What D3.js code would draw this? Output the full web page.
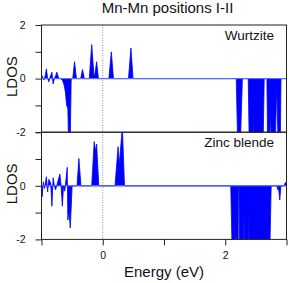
<!DOCTYPE html>
<html>
<head>
<meta charset="utf-8">
<script src="https://cdn.jsdelivr.net/npm/d3@7"></script>
<style>
  body { margin: 0; background: #fff; }
  svg { display: block; font-family: "Liberation Sans", Arial, sans-serif; }
</style>
</head>
<body>
<svg id="chart" width="289" height="283"></svg>
<script>
// Mn-Mn positions I-II, spin-resolved LDOS (two panels)

// Wurtzite: energy (eV) and LDOS
const wzE = [-1.00, -0.98, -0.96, -0.94, -0.92, -0.90, -0.88, -0.86, -0.83, -0.81, -0.79, -0.77, -0.75, -0.72,
  -0.69, -0.66, -0.63, -0.61, -0.59, -0.57, -0.56, -0.53, -0.515, -0.49, -0.46, -0.43, -0.36, -0.33, -0.30,
  -0.22, -0.18, -0.14, -0.12, -0.10, -0.07, 0.10, 0.14, 0.175, 0.42, 0.46, 0.495,
  2.18, 2.20, 2.25, 2.28, 2.375, 2.39, 2.45, 2.46, 2.47, 2.62, 2.636, 2.68, 2.69, 2.73, 2.74, 2.75,
  2.82, 2.84, 2.86, 2.90, 2.91, 3.00];
const wzV = [0.15, 0.05, -0.05, 0.10, 0.36, 0.00, -0.12, 0.05, 0.24, -0.20, 0.00, 0.10, 0.24, 0.02,
  0.00, -0.05, -0.25, -0.50, -1.00, -1.10, -2.20, -2.20, 0.00, 0.00, 0.63, 0.00, 0.00, 0.34, 0.00,
  0.00, 1.27, 0.00, 0.30, 0.63, 0.00, 0.00, 1.00, 0.00, 0.00, 1.14, 0.00,
  0.00, -2.20, -2.20, 0.00, 0.00, -2.20, -2.20, -1.60, -2.20, -2.20, 0.00, 0.00, -2.20, -2.20, -1.20, -2.20,
  -2.20, -0.30, -2.20, -2.20, 0.00, 0.00];

// Zinc blende: energy (eV) and LDOS
const zbE = [-1.00, -0.99, -0.97, -0.95, -0.92, -0.90, -0.88, -0.85, -0.83, -0.81, -0.79, -0.77, -0.74, -0.70,
  -0.68, -0.66, -0.64, -0.62, -0.58, -0.57, -0.55, -0.53, -0.50, -0.42, -0.39, -0.355, -0.18, -0.14, -0.12,
  -0.10, -0.065, 0.20, 0.25, 0.27, 0.32, 0.355,
  2.09, 2.11, 2.16, 2.17, 2.19, 2.21, 2.215, 2.225, 2.23, 2.30, 2.305, 2.31, 2.38, 2.385, 2.39, 2.73, 2.75,
  2.84, 2.86, 2.87, 2.89, 2.91, 2.96, 2.98, 3.00];
const zbV = [0.00, -0.41, 0.15, -0.10, 0.34, -0.23, 0.24, 0.10, -0.76, 0.30, 0.00, -0.15, 0.10, 0.44,
  0.00, -0.76, 0.00, -0.20, 0.69, -1.28, -1.00, -1.57, 0.00, 0.00, 1.02, 0.00, 0.00, 1.65, 1.30,
  1.56, 0.00, 0.00, 1.46, 0.80, 2.20, 0.00,
  0.00, -2.20, -2.20, -1.80, -2.20, -2.20, 0.00, 0.00, -2.20, -2.20, -1.00, -2.20, -2.20, -1.00, -2.20, -2.20, 0.00,
  0.00, -0.15, -0.05, -0.53, 0.00, 0.00, 0.12, 0.10];

const xTicks = [-1, 0, 1, 2, 3];
const xTickLabels = ['', '0', '', '2', ''];
const yTicks = [-2, -1, 0, 1, 2];

const panels = [
  { label: 'Wurtzite', E: wzE, V: wzV, yLabels: ['-2', '', '0', '', '2'] },
  { label: 'Zinc blende', E: zbE, V: zbV, yLabels: ['-2', '', '0', '', ''] }
];

const LEFT = 41.5, RIGHT = 286.5;
const TOP = 25, PANEL_H = 107.2;

const svg = d3.select('#chart');

const x = d3.scaleLinear().domain([-1, 3]).range([LEFT, RIGHT]);

panels.forEach((p, i) => {
  const y0 = TOP + i * PANEL_H;
  const y = d3.scaleLinear().domain([-2, 2]).range([y0 + PANEL_H, y0]);
  const pts = p.E.map((e, k) => ({ e, v: p.V[k] }));

  svg.append('clipPath').attr('id', 'clip' + i)
    .append('rect').attr('x', LEFT).attr('y', y0).attr('width', RIGHT - LEFT).attr('height', PANEL_H);

  const g = svg.append('g').attr('clip-path', `url(#clip${i})`);

  const area = d3.area()
    .x(d => x(d.e))
    .y0(y(0))
    .y1(d => y(d.v));

  g.append('path').datum(pts)
    .attr('d', area)
    .attr('fill', '#0000ff')
    .attr('stroke', '#0000ff')
    .attr('stroke-width', 0.8);

  // zero line
  g.append('line')
    .attr('x1', LEFT).attr('x2', RIGHT)
    .attr('y1', y(0)).attr('y2', y(0))
    .attr('stroke', '#5a78ff').attr('stroke-width', 1);

  // Fermi level
  svg.append('line')
    .attr('x1', x(0)).attr('x2', x(0))
    .attr('y1', y0).attr('y2', y0 + PANEL_H)
    .attr('stroke', '#777').attr('stroke-width', 0.8)
    .attr('stroke-dasharray', '1,1.5');

  // frame
  svg.append('rect')
    .attr('x', LEFT).attr('y', y0).attr('width', RIGHT - LEFT).attr('height', PANEL_H)
    .attr('fill', 'none').attr('stroke', '#222').attr('stroke-width', 1);

  // y axis
  const yAxis = d3.axisLeft(y).tickValues(yTicks).tickSize(6).tickPadding(10)
    .tickFormat((d, k) => p.yLabels[k]);
  const ga = svg.append('g').attr('transform', `translate(${LEFT},0)`).call(yAxis);
  ga.select('.domain').remove();
  ga.selectAll('line').attr('stroke', '#222');
  ga.selectAll('text').attr('font-size', 10.5).attr('fill', '#111')
    .attr('font-family', '"Liberation Sans", Arial, sans-serif');

  svg.append('text')
    .attr('transform', `translate(17,${y0 + PANEL_H / 2 - 2}) rotate(-90)`)
    .attr('text-anchor', 'middle')
    .attr('font-size', 15).attr('fill', '#111')
    .text('LDOS');

  svg.append('text')
    .attr('x', 274).attr('y', y0 + 14.5)
    .attr('text-anchor', 'end')
    .attr('font-size', 13.5).attr('fill', '#111')
    .text(p.label);
});

const bottom = TOP + 2 * PANEL_H;
const xAxis = d3.axisBottom(x).tickValues(xTicks).tickSize(6).tickPadding(6)
  .tickFormat((d, k) => xTickLabels[k]);
const gx = svg.append('g').attr('transform', `translate(0,${bottom})`).call(xAxis);
gx.select('.domain').remove();
gx.selectAll('line').attr('stroke', '#222');
gx.selectAll('text').attr('font-size', 10.5).attr('fill', '#111')
  .attr('font-family', '"Liberation Sans", Arial, sans-serif');

svg.append('text')
  .attr('x', (LEFT + RIGHT) / 2).attr('y', 277)
  .attr('text-anchor', 'middle')
  .attr('font-size', 15).attr('fill', '#111')
  .text('Energy (eV)');

svg.append('text')
  .attr('x', 167.5).attr('y', 13)
  .attr('text-anchor', 'middle')
  .attr('font-size', 15).attr('fill', '#111')
  .text('Mn-Mn positions I-II');
</script>
</body>
</html>
